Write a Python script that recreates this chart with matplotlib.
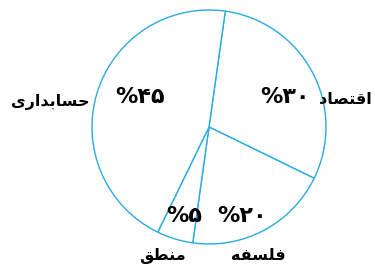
import matplotlib
matplotlib.use("Agg")
import matplotlib.pyplot as plt

# ---- data ----
categories = ["اقتصاد", "فلسفه", "منطق", "حسابداری"]
values = [30, 20, 5, 45]
pct_labels = ["%۳۰", "%۲۰", "%۵", "%۴۵"]

# ---- minimal Persian shaping (matplotlib has no complex text layout) ----
FORMS = {  # isolated, final, initial, medial
    "ا": ("\uFE8D", "\uFE8E", None, None),
    "ب": ("\uFE8F", "\uFE90", "\uFE91", "\uFE92"),
    "ت": ("\uFE95", "\uFE96", "\uFE97", "\uFE98"),
    "ح": ("\uFEA1", "\uFEA2", "\uFEA3", "\uFEA4"),
    "د": ("\uFEA9", "\uFEAA", None, None),
    "ر": ("\uFEAD", "\uFEAE", None, None),
    "س": ("\uFEB1", "\uFEB2", "\uFEB3", "\uFEB4"),
    "ص": ("\uFEB9", "\uFEBA", "\uFEBB", "\uFEBC"),
    "ط": ("\uFEC1", "\uFEC2", "\uFEC3", "\uFEC4"),
    "ف": ("\uFED1", "\uFED2", "\uFED3", "\uFED4"),
    "ق": ("\uFED5", "\uFED6", "\uFED7", "\uFED8"),
    "ل": ("\uFEDD", "\uFEDE", "\uFEDF", "\uFEE0"),
    "م": ("\uFEE1", "\uFEE2", "\uFEE3", "\uFEE4"),
    "ن": ("\uFEE5", "\uFEE6", "\uFEE7", "\uFEE8"),
    "ه": ("\uFEE9", "\uFEEA", "\uFEEB", "\uFEEC"),
    "ی": ("\uFEEF", "\uFEF0", "\uFEF3", "\uFEF4"),
}


def shape(word):
    out = []
    n = len(word)
    for i, ch in enumerate(word):
        f = FORMS.get(ch)
        if f is None:
            out.append(ch)
            continue
        prev = word[i - 1] if i > 0 else None
        nxt = word[i + 1] if i < n - 1 else None
        join_prev = prev is not None and prev in FORMS and FORMS[prev][2] is not None
        join_next = nxt is not None and nxt in FORMS and f[2] is not None
        if join_prev and join_next:
            out.append(f[3])
        elif join_prev:
            out.append(f[1])
        elif join_next:
            out.append(f[2])
        else:
            out.append(f[0])
    return "".join(reversed(out))


W, H = 375, 264
fig = plt.figure(figsize=(W / 100, H / 100), dpi=100)
cx, cy, r = 209, 127, 117
ax = fig.add_axes([(cx - r) / W, (H - cy - r) / H, 2 * r / W, 2 * r / H])

blue = "#29abe2"
ax.pie(values, startangle=82, counterclock=False, radius=1,
       colors=["white"] * len(values),
       wedgeprops=dict(edgecolor=blue, linewidth=1.0))
ax.set_xlim(-1, 1)
ax.set_ylim(-1, 1)
ax.set_aspect("equal")
ax.axis("off")


def px(x, y):
    return (x - cx) / r, (cy - y) / r


font = ["DejaVu Sans"]
# label positions (pixels in the reference image): (x, y, ha)
cat_pos = [(372, 99, "right"), (258, 255, "center"), (162, 256, "center"),
           (50, 102, "center")]
pct_pos = [(285, 97), (242, 216), (184, 216), (140, 97)]
for name, (x, y, ha) in zip(categories, cat_pos):
    ax.text(*px(x, y), shape(name), ha=ha, va="center", fontsize=11.5,
            fontweight="bold", family=font, clip_on=False)
for lab, (x, y) in zip(pct_labels, pct_pos):
    ax.text(*px(x, y), lab, ha="center", va="center", fontsize=16,
            fontweight="bold", family=font, clip_on=False)

fig.savefig("out.png", dpi=100)
